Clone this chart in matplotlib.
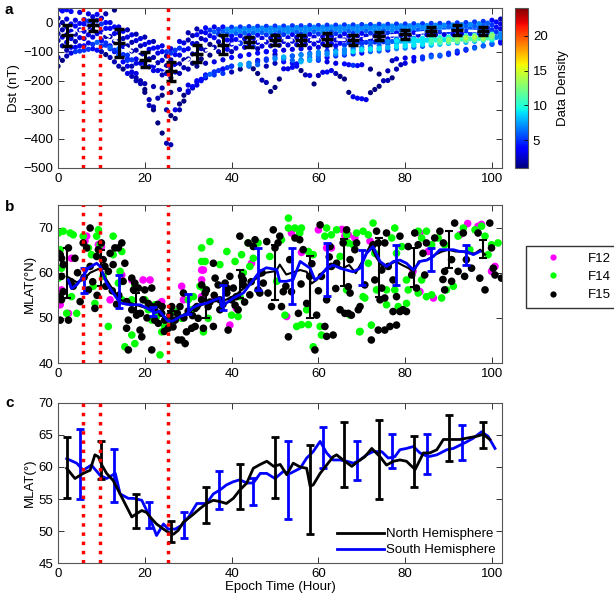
import numpy as np
import matplotlib
matplotlib.use("Agg")
import matplotlib.pyplot as plt
from matplotlib.lines import Line2D

plt.rcParams['font.family'] = ['Liberation Sans', 'DejaVu Sans']

# ---------------- Panel a data: Dst curves (epoch hour, nT) ----------------
# band curves: (start hour, values every 2 h)
c1 = [15, 12, 8, 10, 20, 15, 0, -15, -25, -40, -50, -65, -80, -90, -65, -35, -22, -18, -15, -15, -16, -15, -14, -13,
      -13, -12, -12, -11, -11, -10, -10, -9, -9, -8, -8, -7, -7, -6, -6, -5, -5, -4, -4, -3, -3, -2, -1, 0, 2, 4, 8, 12]
c2 = [0, -5, -3, 5, 8, 0, -15, -30, -42, -55, -68, -85, -100, -95, -70, -45, -32, -26, -24, -23, -22, -21, -20, -19,
      -19, -18, -18, -17, -17, -16, -16, -15, -15, -14, -14, -13, -13, -12, -12, -11, -11, -10, -10, -9, -9, -8, -7,
      -6, -4, -2, 2]
c3 = [-10, -15, -12, -5, 0, -5, -20, -35, -50, -62, -75, -88, -100, -105, -88, -60, -42, -35, -32, -30, -30, -29, -28,
      -27, -26, -26, -25, -25, -24, -24, -23, -23, -22, -22, -21, -21, -20, -20, -19, -19, -18, -18, -17, -17, -16,
      -15, -14, -13, -12, -10, -8, -5]
c4 = [-25, -30, -25, -15, -12, -20, -38, -55, -68, -80, -92, -105, -115, -110, -95, -72, -55, -45, -40, -38, -37, -36,
      -35, -34, -34, -33, -33, -32, -32, -31, -31, -30, -30, -29, -29, -28, -28, -27, -27, -26, -26, -25, -25, -24,
      -24, -23, -22, -21, -20, -18, -16]
c5 = [-38, -42, -40, -30, -25, -32, -48, -65, -80, -95, -108, -120, -130, -128, -112, -90, -72, -60, -52, -48, -46, -45,
      -44, -43, -42, -42, -41, -41, -40, -40, -39, -39, -38, -38, -37, -37, -36, -36, -35, -35, -34, -34, -33, -33,
      -32, -31, -30, -29, -28, -27, -25, -22]
c6 = [-50, -55, -52, -42, -38, -48, -65, -82, -98, -112, -125, -138, -148, -145, -128, -108, -90, -75, -66, -60, -58,
      -56, -55, -54, -53, -52, -52, -51, -50, -50, -49, -48, -48, -47, -46, -46, -45, -45, -44, -44, -43, -43, -42,
      -42, -41, -40, -39, -38, -37, -35, -33]
c7 = [-62, -68, -65, -55, -50, -62, -80, -98, -112, -125, -138, -150, -160, -158, -142, -125, -108, -95, -85, -78, -74,
      -72, -70, -68, -67, -66, -65, -64, -63, -62, -62, -61, -60, -60, -59, -58, -58, -57, -56, -56, -55, -54, -54,
      -53, -52, -51, -50, -49, -48, -46, -44, -42]
c8 = [-80, -85, -80, -70, -68, -78, -95, -112, -128, -140, -152, -165, -175, -170, -155, -140, -125, -112, -100, -92,
      -88, -85, -83, -81, -80, -78, -77, -76, -75, -74, -73, -72, -71, -70, -69, -68, -67, -66, -65, -64, -63, -62,
      -61, -60, -59, -58, -57, -56, -55, -53, -51]
band_curves = [(0, c1), (1, c2), (0, c3), (1, c4), (0, c5), (1, c6), (0, c7), (1, c8)]

l1_t = list(range(10, 41)) + list(range(42, 103, 2))
l1_d = [-60, -70, -85, -100, -115, -135, -150, -170, -190, -210, -240, -265, -300, -345, -380, -415, -420, -330, -300,
        -270, -240, -220, -205, -195, -185, -178, -170, -165, -160, -155, -150,
        -145, -140, -135, -130, -125, -120, -115, -110, -106, -102, -98, -95, -92, -88, -85, -82, -78, -75, -72, -70,
        -68, -65, -62, -60, -58, -55, -52, -50, -47, -45, -42]
l2_t = list(range(14, 35)) + list(range(36, 101, 2))
l2_d = [-90, -110, -130, -150, -175, -200, -230, -285, -290, -260, -250, -300, -320, -300, -280, -250, -235, -225, -215,
        -200, -190,
        -180, -175, -170, -160, -150, -145, -150, -140, -135, -130, -128, -120, -115, -110, -108, -105, -100, -95, -92,
        -90, -86, -82, -80, -76, -72, -70, -68, -65, -62, -60, -58, -55, -52]
l3_t = list(range(0, 19)) + list(range(20, 103, 2))
l3_d = [-150, -130, -115, -105, -100, -98, -95, -92, -90, -95, -100, -110, -120, -135, -150, -160, -175, -185, -200,
        -210, -220, -225, -240, -230, -215, -200, -180, -170, -160, -150, -145, -140, -130, -125, -120, -118, -115,
        -112, -110, -108, -105, -100, -98, -95, -92, -90, -88, -85, -82, -80, -78, -75, -72, -70, -68, -65, -62, -60,
        -58, -55, -52]
l4_t = list(range(0, 103, 2))
l4_d = [-120, -95, -85, -80, -75, -80, -90, -110, -125, -140, -150, -165, -180, -190, -175, -160, -150, -140, -135, -128,
        -120, -115, -110, -105, -100, -98, -95, -92, -90, -88, -85, -82, -80, -78, -75, -72, -70, -68, -65, -62, -60,
        -58, -56, -54, -52, -50, -48, -46, -44, -42, -40, -38]
l5_t = [40, 42, 44, 46, 48, 50, 52, 54, 55, 56, 57, 58, 59, 60, 61, 62, 63, 64, 65, 66, 67, 68, 69, 70, 71, 72, 73, 74,
        75, 76, 77, 78, 79, 80, 82, 84, 86, 88, 90, 92, 94, 96, 98, 100, 102]
l5_d = [-60, -70, -80, -90, -100, -110, -125, -140, -150, -165, -180, -182, -211, -182, -171, -170, -165, -175, -185,
        -194, -240, -255, -260, -262, -265, -241, -230, -219, -200, -199, -190, -160, -145, -140, -132, -125, -118, -112,
        -105, -98, -92, -85, -80, -75, -70]
l6_t = [40, 42, 44, 45, 46, 47, 48, 49, 50, 51, 52, 53, 54, 55, 56, 58, 60, 62, 64, 66, 68, 70, 72, 74, 76, 78, 80, 82,
        84, 86, 88, 90, 92, 94, 96, 98, 100]
l6_d = [-100, -115, -148, -159, -175, -198, -206, -237, -223, -194, -159, -159, -154, -142, -135, -130, -125, -120, -115,
        -112, -108, -105, -100, -98, -95, -90, -88, -85, -82, -78, -75, -72, -70, -68, -65, -62, -60]
l7_t = [56, 58, 60, 62, 64, 66, 67, 68, 69, 70, 72, 74, 76, 77, 78, 80, 82, 84, 86, 88, 90, 92, 94, 96, 98, 100, 102]
l7_d = [-130, -128, -130, -135, -140, -142, -145, -147, -148, -145, -160, -177, -166, -131, -125, -122, -120, -118, -112,
        -115, -110, -105, -95, -88, -80, -72, -65]
l8_t = [0, 1, 2, 3, 5, 7, 9, 11, 13]
l8_d = [45, 40, 44, 38, 35, 30, 28, 30, 43]
outlier_curves = [(l1_t, l1_d), (l2_t, l2_d), (l3_t, l3_d), (l4_t, l4_d), (l5_t, l5_d),
                  (l6_t, l6_d), (l7_t, l7_d), (l8_t, l8_d)]

ta_mean = [2, 8, 14, 20, 26, 32, 38, 44, 50, 56, 62, 68, 74, 80, 86, 92, 98]
dst_mean = [-44, -10, -70, -128, -168, -107, -76, -67, -61, -61, -56, -61, -47, -41, -30, -27, -30]
dst_err = [35, 18, 49, 26, 32, 29, 32, 17, 17, 17, 20, 17, 14, 14, 14, 17, 14]

event_times = [5.8, 9.7, 25.4]

# ---------------- Panel b data ----------------
f15_t = [0.1, 0.5, 0.8, 1.2, 0.8, 0.5, 0.8, 1.2, 0.5, 2.4, 2.4, 3.9, 3.5, 5.1, 5.8, 6.6, 7.4, 7.0, 7.4, 8.5, 8.9, 9.3,
         10.0, 10.4, 10.8, 11.6, 12.0, 13.1, 13.9, 12.7, 14.7, 15.4, 15.0, 15.8, 16.2, 17.0, 17.4, 17.7, 18.5, 18.1,
         18.9, 19.3, 15.8, 16.2, 17.0, 20.0, 19.6, 20.8, 21.6, 21.6, 22.3, 22.3, 21.6, 23.1, 23.9, 24.6, 25.4, 27.0,
         27.7, 28.5, 29.3, 29.6, 30.8, 31.6, 32.3, 33.1, 31.6, 28.9, 28.1, 26.2, 25.8,
         3.0, 4.5, 6.0, 8.0, 9.0, 11.0, 12.5, 13.5, 14.0, 19.0, 20.5, 23.0, 24.0, 26.5, 27.5, 29.0, 30.0, 31.0, 32.0,
         24.5,
         33.1, 34.2, 35.8, 36.2, 36.9, 37.3, 38.5, 38.9, 39.6, 40.0, 40.4, 41.1, 41.9, 42.3, 42.7, 43.8, 44.2, 45.0,
         45.4, 46.1, 46.5, 47.3, 48.1, 48.4, 49.2, 49.6, 50.0, 50.7, 51.1, 51.5, 51.9, 53.1, 53.4, 53.8, 54.6, 55.4,
         55.7, 56.5, 57.3, 58.0, 59.2, 59.6, 60.4, 60.7, 61.5, 61.9, 62.7, 63.0, 63.4, 64.2, 65.0, 65.7, 66.5, 66.9,
         67.3, 33.5, 35.8, 34.6, 37.3, 39.2, 41.5, 42.7, 33.9,
         35.0, 36.0, 38.0, 39.0, 40.8, 43.0, 44.5, 47.0, 52.5, 56.0, 58.5, 60.0, 62.5, 64.0, 61.9,
         68.8, 68.4, 67.3, 66.9, 69.6, 67.6, 66.1, 73.4, 72.6, 73.8, 75.7, 75.3, 73.0, 74.6, 75.3, 74.2, 77.2, 77.2,
         78.8, 78.8, 80.3, 80.7, 82.2, 81.5, 82.6, 83.0, 84.9, 84.1, 84.5, 86.8, 88.0, 88.8, 89.1, 90.7, 91.4, 90.7,
         93.4, 94.1, 93.7, 95.3, 96.8, 97.2, 98.4, 99.5, 99.9, 100.7, 102.2, 100.3, 73.8, 75.3, 76.5, 78.0, 72.2, 69.2,
         78.0, 79.5, 74.6, 76.1, 70.7, 89.1, 92.2, 88.7]
f15_lat = [64.3, 64.0, 63.2, 61.8, 59.2, 54.7, 54.0, 55.8, 49.5, 65.5, 49.5, 63.2, 57.0, 53.6, 66.6, 65.5, 69.9, 56.2,
           61.4, 52.1, 63.6, 65.1, 66.6, 62.9, 61.4, 60.3, 64.3, 65.5, 65.5, 61.8, 66.6, 62.1, 58.1, 53.6, 49.5, 58.8,
           56.2, 57.7, 56.6, 50.6, 47.3, 45.8, 47.7, 42.9, 51.8, 56.2, 54.0, 53.2, 56.6, 52.5, 51.8, 49.5, 42.9, 48.8,
           51.0, 49.5, 47.7, 49.5, 45.1, 45.1, 44.3, 46.9, 47.7, 48.1, 49.9, 54.0, 52.1, 55.5, 52.5, 52.5, 50.6,
           58.0, 60.0, 59.0, 58.0, 55.0, 57.0, 56.0, 53.0, 55.0, 51.0, 50.0, 53.0, 52.5, 48.0, 51.0, 50.0, 51.5, 50.5,
           52.5, 47.0,
           57.3, 56.2, 62.1, 58.8, 57.3, 54.0, 57.7, 55.5, 59.2, 54.0, 56.6, 54.7, 68.1, 59.2, 58.4, 66.6, 55.1, 65.8,
           67.3, 56.2, 55.5, 57.7, 66.9, 55.5, 52.5, 69.5, 65.5, 66.6, 68.1, 52.5, 55.8, 45.8, 62.9, 55.8, 67.7, 51.0,
           67.3, 65.1, 53.2, 59.2, 42.9, 50.6, 70.6, 59.2, 48.1, 54.0, 65.8, 61.4, 46.2, 62.1, 51.8, 66.6, 69.5, 51.0,
           55.5, 47.7, 48.1, 52.5, 51.8, 47.3, 51.8, 57.3, 55.5,
           53.5, 55.0, 53.0, 56.5, 52.8, 53.5, 58.0, 60.0, 57.0, 57.5, 62.0, 56.0, 63.5, 56.5, 45.9,
           66.6, 65.1, 62.9, 56.9, 52.5, 50.6, 51.0, 69.2, 66.2, 66.6, 68.8, 66.6, 58.4, 56.6, 54.4, 54.0, 58.4, 51.4,
           68.1, 51.4, 51.4, 65.8, 68.8, 59.5, 56.6, 66.2, 66.6, 64.3, 59.5, 67.7, 69.2, 66.6, 60.3, 62.9, 71.0, 58.1,
           68.8, 62.9, 59.2, 61.0, 68.8, 58.8, 56.2, 71.0, 65.5, 59.5, 58.8, 61.0, 47.3, 47.3, 48.1, 48.4, 45.1, 51.8,
           54.7, 51.8, 60.6, 61.4, 57.3, 56.2, 60.3, 58.5]

f14_t = [0.1, 1.2, 2.8, 3.5, 0.5, 0.8, 0.1, 3.1, 4.3, 2.0, 5.8, 7.0, 7.7, 8.9, 9.3, 9.7, 10.4, 8.1, 8.5, 12.7, 12.7,
         14.7, 14.3, 13.9, 14.7, 11.6, 17.0, 17.7, 20.0, 20.8, 21.6, 22.7, 24.6, 23.9, 17.0, 17.7, 15.4, 23.5, 22.3,
         25.8, 27.0, 28.5, 30.8, 31.2, 33.5, 33.1, 33.1, 30.0,
         35.0, 33.9, 32.7, 34.6, 33.5, 37.3, 38.9, 40.0, 41.5, 40.8, 42.3, 43.8, 45.0, 46.1, 48.8, 50.4, 51.5, 53.1,
         53.1, 54.6, 55.7, 56.1, 57.7, 58.8, 58.8, 60.4, 60.7, 61.5, 61.9, 63.0, 64.2, 65.0, 66.5, 66.5, 52.3, 55.0,
         56.1, 57.7, 57.3, 41.9, 44.2, 42.7,
         66.5, 66.9, 68.0, 68.8, 70.3, 71.5, 72.6, 73.0, 76.9, 77.6, 78.0, 79.2, 80.3, 83.0, 83.8, 84.9, 86.1, 87.6,
         89.1, 92.2, 93.4, 96.1, 97.6, 98.4, 99.9, 101.4, 99.1, 94.9, 71.5, 75.7, 77.6, 80.7, 83.0, 84.9, 86.1, 88.4,
         89.5, 91.1, 70.7, 73.4, 67.3, 75.7, 78.4, 80.3, 72.2, 69.5, 70.3, 83.8, 69.6]
f14_lat = [68.8, 69.2, 68.8, 68.4, 65.1, 61.0, 58.8, 54.7, 51.0, 51.0, 68.1, 65.5, 64.0, 68.1, 69.5, 66.2, 59.2, 57.0,
           53.2, 68.1, 64.0, 64.7, 60.3, 57.7, 54.0, 48.1, 54.0, 57.3, 54.0, 51.8, 49.5, 50.3, 48.1, 46.9, 46.2, 44.3,
           43.6, 41.8, 52.9, 49.5, 51.4, 49.9, 51.8, 54.7, 56.6, 65.5, 62.5, 54.0,
           66.9, 62.5, 57.0, 49.9, 46.9, 61.8, 64.7, 50.6, 50.3, 62.5, 64.0, 66.6, 63.2, 66.6, 63.6, 58.1, 67.3, 72.1,
           69.9, 69.9, 68.8, 69.9, 64.7, 64.0, 43.6, 48.1, 46.2, 68.1, 69.9, 68.4, 69.5, 63.6, 68.8, 56.2, 50.6, 48.1,
           48.5, 48.5, 51.8, 54.7, 61.4, 60.0,
           68.4, 66.6, 66.2, 68.8, 69.2, 68.4, 71.0, 64.3, 67.7, 69.9, 64.3, 65.8, 58.4, 69.2, 67.7, 69.2, 66.2, 67.7,
           66.2, 68.1, 69.9, 69.5, 70.3, 68.1, 66.2, 66.6, 64.0, 65.1, 62.1, 56.2, 56.2, 56.2, 55.5, 54.7, 55.1, 54.4,
           56.2, 57.0, 54.4, 56.2, 50.6, 52.9, 52.5, 53.2, 48.4, 46.9, 54.7, 58.4, 47.0]

f12_t = [3.1, 0.5, 6.6, 6.2, 9.3, 10.0, 12.0, 14.7, 17.0, 19.6, 21.2, 23.9, 28.9, 28.5, 33.1, 33.1, 0.8, 2.4,
         33.5, 36.2, 39.6, 38.9, 41.1, 44.6, 53.8, 52.7, 60.0, 63.0, 33.1, 66.1, 61.9, 56.1, 65.4,
         66.9, 68.4, 71.9, 83.4, 85.3, 92.6, 94.4, 96.8, 99.9, 86.5, 83.4, 81.8, 100.7, 97.6]
f12_lat = [63.2, 52.9, 68.1, 67.0, 66.2, 65.8, 54.0, 59.5, 58.4, 58.4, 58.4, 53.6, 54.0, 57.0, 60.6, 58.4, 56.2, 51.0,
           60.6, 54.4, 48.4, 56.6, 52.1, 62.1, 68.8, 50.3, 69.5, 65.5, 54.7, 68.1, 65.5, 64.5, 69.6,
           68.4, 67.7, 67.0, 68.8, 64.7, 68.4, 70.9, 70.3, 60.3, 54.4, 55.8, 60.3, 61.4, 70.7]

tb_n = [2.0, 4.3, 5.8, 7.4, 9.7, 11.2, 12.7, 14.3, 16.6, 18.9, 21.2, 23.4, 25.3, 27.2, 29.5, 31.8, 34.1, 36.4, 38.7,
        41.0, 43.3, 45.8, 47.9, 50.3, 51.1, 52.6, 55.8, 57.3, 58.4, 59.6, 61.1, 62.6, 64.1, 65.6, 67.1, 68.6, 70.1,
        72.0, 73.2, 74.7, 76.2, 77.8, 79.3, 80.8, 82.0, 83.1, 85.0, 86.9, 88.5, 90.0, 91.6, 93.1, 94.6, 96.1, 97.3,
        98.4]
lat_bn = [59.2, 57.9, 58.4, 60.0, 61.0, 58.4, 56.2, 54.0, 53.3, 52.6, 51.9, 51.1, 49.3, 49.6, 51.1, 52.2, 53.3, 53.7,
          54.0, 55.1, 57.0, 58.8, 60.0, 60.4, 61.8, 59.6, 60.6, 60.2, 57.6, 58.4, 60.2, 61.0, 61.7, 61.0, 61.7, 59.9,
          62.5, 66.2, 63.6, 61.4, 61.7, 62.5, 61.7, 61.0, 60.2, 62.5, 62.8, 64.0, 64.7, 65.1, 64.7, 64.7, 64.3, 64.3,
          65.1, 64.0]
tb_s = [2.4, 3.1, 4.3, 5.8, 6.9, 8.9, 9.7, 11.2, 12.7, 14.3, 16.6, 18.9, 20.4, 22.3, 23.4, 25.3, 26.4, 28.4, 29.5,
        31.0, 32.5, 34.1, 35.6, 37.3, 37.7, 40.4, 42.7, 45.0, 46.5, 48.0, 50.4, 51.1, 52.6, 54.2, 55.8, 58.1, 59.2,
        60.4, 61.9, 63.4, 65.0, 66.5, 68.0, 69.6, 71.1, 72.6, 74.2, 75.7, 77.3, 78.8, 80.3, 81.9, 83.4, 85.0, 86.5,
        88.0, 89.6, 91.1, 92.6, 94.2, 95.7, 97.2]
lat_bs = [58.4, 56.5, 57.3, 59.2, 61.0, 62.1, 61.4, 57.7, 55.5, 53.3, 52.9, 52.9, 52.2, 51.1, 51.5, 49.3, 49.3, 50.4,
          50.7, 52.2, 52.9, 53.2, 53.8, 54.4, 52.5, 54.4, 55.5, 58.4, 60.3, 61.1, 60.7, 58.1, 58.1, 58.5, 62.5, 61.0,
          58.4, 59.2, 61.0, 61.7, 61.0, 60.6, 60.2, 61.0, 64.3, 65.8, 62.5, 61.4, 62.5, 62.8, 62.1, 60.6, 62.5, 62.8,
          63.6, 65.1, 65.1, 65.1, 64.7, 64.7, 64.0, 64.7]
eb_n_t = [2, 10, 18, 26, 34, 42, 50, 58, 66, 74, 82, 90, 98]
eb_n_c = [60.0, 61.0, 53.5, 49.5, 53.0, 57.5, 60.1, 56.8, 62.2, 61.2, 61.2, 65.1, 65.3]
eb_n_h = [5.5, 4.0, 2.0, 2.0, 3.0, 3.0, 6.1, 6.9, 5.2, 6.5, 4.3, 4.1, 2.0]
eb_s_t = [6, 14, 22, 30, 38, 46, 54, 62, 70, 78, 86, 94]
eb_s_c = [58.2, 55.8, 51.5, 53.0, 54.5, 60.8, 59.2, 60.7, 61.2, 61.7, 62.9, 64.0]
eb_s_h = [2.8, 3.7, 1.0, 2.2, 2.8, 4.6, 6.2, 5.9, 3.9, 4.4, 2.6, 2.2]

# ---------------- Panel c data ----------------
tc_n = [2.0, 3.9, 5.8, 7.4, 8.5, 9.3, 10.1, 11.2, 12.7, 14.3, 15.8, 17.0, 18.1, 19.3, 20.4, 21.6, 22.7, 24.3, 25.4,
        26.6, 27.7, 28.9, 30.8, 32.7, 34.2, 35.8, 37.3, 38.8, 40.4, 41.9, 43.5, 45.0, 46.6, 48.1, 49.7, 51.2, 52.7,
        54.2, 55.8, 57.3, 58.1, 58.8, 60.4, 61.9, 63.4, 64.2, 65.7, 67.7, 69.2, 70.7, 72.3, 74.2, 75.7, 77.3, 78.8,
        80.3, 82.3, 84.2, 85.7, 87.3, 88.8, 91.1, 92.6, 94.9, 96.5, 98.0, 99.5]
lat_cn = [59.8, 58.2, 59.0, 59.5, 61.9, 61.6, 60.3, 59.0, 57.9, 55.8, 53.8, 52.2, 52.7, 53.2, 52.9, 51.9, 51.1, 50.3,
          49.8, 49.5, 50.1, 51.4, 52.4, 53.5, 54.3, 54.8, 54.6, 54.3, 55.1, 56.4, 57.5, 59.8, 60.4, 60.9, 60.1, 60.4,
          58.8, 60.6, 60.0, 59.8, 57.0, 57.2, 59.0, 60.3, 61.6, 61.9, 61.1, 60.1, 60.9, 61.6, 62.9, 61.6, 60.3, 60.9,
          61.1, 60.9, 59.6, 62.2, 62.2, 62.7, 64.3, 64.3, 64.3, 64.6, 64.8, 65.1, 64.3]
tc_s = [2.0, 4.3, 5.8, 7.7, 9.7, 11.2, 13.2, 14.3, 16.2, 17.4, 19.3, 20.8, 22.7, 24.3, 25.4, 27.0, 28.5, 30.1, 32.0,
        34.2, 35.8, 37.3, 38.8, 40.4, 41.9, 43.5, 45.0, 46.6, 48.1, 50.0, 51.9, 53.5, 55.8, 57.3, 58.8, 60.4, 61.9,
        63.4, 65.0, 66.5, 68.1, 69.6, 71.1, 72.6, 74.6, 76.1, 77.6, 78.8, 80.3, 81.9, 83.4, 85.3, 87.3, 89.6, 91.1,
        92.6, 94.1, 95.7, 97.6, 99.1, 100.7]
lat_cs = [61.3, 60.6, 59.5, 60.3, 58.7, 58.2, 59.0, 55.8, 55.1, 55.1, 54.8, 52.7, 49.3, 51.1, 50.3, 50.3, 50.9, 52.2,
          54.3, 54.3, 55.8, 56.4, 57.2, 57.7, 58.0, 57.5, 57.5, 59.0, 59.0, 58.2, 59.3, 59.0, 59.8, 61.4, 62.4, 64.0,
          62.2, 61.1, 61.1, 60.9, 60.6, 61.1, 61.9, 62.4, 62.4, 61.4, 61.6, 62.7, 62.9, 63.2, 62.2, 61.6, 61.9, 62.7,
          62.9, 63.4, 63.9, 64.5, 65.5, 64.8, 62.9]
ec_n_t = [2, 10, 18, 26, 34, 42, 50, 58, 66, 74, 82, 90, 98]
ec_n_c = [59.9, 61.1, 53.1, 49.9, 54.0, 56.9, 59.9, 56.5, 61.9, 61.2, 60.8, 64.5, 65.0]
ec_n_h = [4.8, 2.9, 2.7, 1.6, 2.8, 3.5, 4.8, 6.9, 5.1, 6.2, 4.0, 3.6, 2.0]
ec_s_t = [5, 13, 21, 29, 37, 45, 53, 61, 69, 77, 85, 93]
ec_s_c = [60.5, 58.7, 52.5, 50.9, 56.4, 56.2, 58.0, 63.0, 61.0, 62.5, 62.0, 63.8]
ec_s_h = [5.5, 4.1, 2.1, 2.0, 2.9, 2.1, 6.1, 3.2, 3.0, 2.6, 3.1, 2.7]

# ---------------- Figure ----------------
FS = 9.5
fig = plt.figure(figsize=(6.14, 6.03), dpi=100)
L, W = 0.0945, 0.723
XMAX = 102.3
ax_a = fig.add_axes([L, 0.7214, W, 0.2653])
ax_b = fig.add_axes([L, 0.398, W, 0.262])
ax_c = fig.add_axes([L, 0.0663, W, 0.2654])
cax = fig.add_axes([0.8388, 0.7214, 0.0212, 0.2653])


def style(ax):
    ax.tick_params(direction='in', top=True, right=True, length=4, width=0.7,
                   labelsize=FS, colors='#333333', labelcolor='black')
    for s in ax.spines.values():
        s.set_color('#555555')
        s.set_linewidth(0.8)
    ax.set_xlim(0, XMAX)
    ax.set_xticks([0, 20, 40, 60, 80, 100])


# Panel a
T = []
D = []
for start, vals in band_curves:
    T.append(start + 2 * np.arange(len(vals)))
    D.append(np.array(vals, dtype=float))
for tt, dd in outlier_curves:
    T.append(np.array(tt, dtype=float))
    D.append(np.array(dd, dtype=float))
T = np.concatenate(T)
D = np.concatenate(D)
dens = np.array([np.sum((np.abs(T - t) <= 2) & (np.abs(D - d) <= 8)) for t, d in zip(T, D)])
order = np.argsort(dens)
sc = ax_a.scatter(T[order], D[order], c=dens[order], cmap='jet', vmin=1, vmax=24, s=14,
                  edgecolors='none', zorder=2)
ax_a.plot(ta_mean, dst_mean, color='white', ls='--', lw=1.8, zorder=3)
ax_a.errorbar(ta_mean, dst_mean, yerr=dst_err, fmt='_', color='black', ms=8, mew=2.5,
              elinewidth=2.2, capsize=3.5, capthick=2.2, zorder=4)
for et in event_times:
    ax_a.axvline(et, color='red', ls=':', lw=2.5, zorder=5)
style(ax_a)
ax_a.set_ylim(-500, 50)
ax_a.set_yticks([-500, -400, -300, -200, -100, 0])
ax_a.set_ylabel('Dst (nT)', fontsize=FS, labelpad=2)

cb = fig.colorbar(sc, cax=cax)
cb.set_ticks([5, 10, 15, 20])
cb.ax.tick_params(labelsize=FS, direction='in', length=3, width=0.6)
cb.outline.set_edgecolor('#555555')
cb.set_label('Data Density', fontsize=FS, labelpad=7)

# Panel b
MS = 30
ax_b.scatter(f12_t, f12_lat, s=MS, color='#ff00ff', edgecolors='none', zorder=2)
ax_b.scatter(f14_t, f14_lat, s=MS, color='#00ff00', edgecolors='none', zorder=2)
ax_b.scatter(f15_t, f15_lat, s=MS, color='black', edgecolors='none', zorder=2)
ax_b.plot(tb_n, lat_bn, color='black', lw=1.5, zorder=3)
ax_b.errorbar(eb_n_t, eb_n_c, yerr=eb_n_h, fmt='none', ecolor='black', elinewidth=1.5,
              capsize=3, capthick=1.5, zorder=3)
ax_b.plot(tb_s, lat_bs, color='#0000ff', lw=2.0, zorder=4)
ax_b.errorbar(eb_s_t, eb_s_c, yerr=eb_s_h, fmt='none', ecolor='#0000ff', elinewidth=2,
              capsize=3, capthick=2, zorder=4)
for et in event_times:
    ax_b.axvline(et, color='red', ls=':', lw=2.5, zorder=5)
style(ax_b)
ax_b.set_ylim(40, 75)
ax_b.set_yticks([40, 50, 60, 70])
ax_b.set_ylabel('MLAT(°N)', fontsize=FS, labelpad=2)
handles = [Line2D([], [], marker='o', ls='none', color=c, ms=4.5, mec='none')
           for c in ['#ff00ff', '#00ff00', 'black']]
fig.legend(handles, ['F12', 'F14', 'F15'], loc='upper left', bbox_to_anchor=(0.857, 0.592),
           fontsize=FS, frameon=True, fancybox=False, edgecolor='black', handletextpad=1.2,
           borderpad=0.5, labelspacing=0.45, handlelength=3.0, borderaxespad=0)

# Panel c
ax_c.plot(tc_s, lat_cs, color='#0000ff', lw=2.0, zorder=3)
ax_c.errorbar(ec_s_t, ec_s_c, yerr=ec_s_h, fmt='none', ecolor='#0000ff', elinewidth=2,
              capsize=3, capthick=2, zorder=3)
ax_c.plot(tc_n, lat_cn, color='black', lw=2.0, zorder=4)
ax_c.errorbar(ec_n_t, ec_n_c, yerr=ec_n_h, fmt='none', ecolor='black', elinewidth=2,
              capsize=3, capthick=2, zorder=4)
for et in event_times:
    ax_c.axvline(et, color='red', ls=':', lw=2.5, zorder=5)
style(ax_c)
ax_c.set_ylim(45, 70)
ax_c.set_yticks([45, 50, 55, 60, 65, 70])
ax_c.set_ylabel('MLAT(°)', fontsize=FS, labelpad=2)
ax_c.set_xlabel('Epoch Time (Hour)', fontsize=FS, labelpad=1)
lh = [Line2D([], [], color='black', lw=2), Line2D([], [], color='#0000ff', lw=2)]
ax_c.legend(lh, ['North Hemisphere', 'South Hemisphere'], loc='lower right', frameon=False,
            fontsize=FS, handlelength=3.6, handletextpad=0.1, labelspacing=0.3,
            borderaxespad=0.3, borderpad=0.2)

for lbl, y in [('a', 0.995), ('b', 0.668), ('c', 0.343)]:
    fig.text(0.008, y, lbl, fontsize=11, fontweight='bold', va='top', ha='left')

fig.savefig('out.png', dpi=100)
